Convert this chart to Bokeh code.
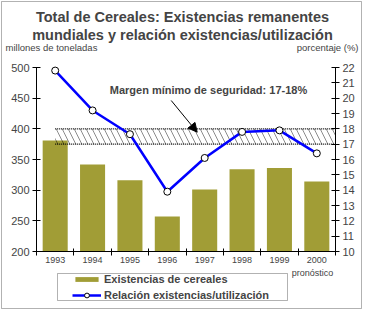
from bokeh.plotting import figure
from bokeh.models import (Range1d, LinearAxis, FixedTicker, Label, Arrow, NormalHead,
                          BoxAnnotation, Legend, LegendItem)
from bokeh.embed import file_html
from bokeh.resources import INLINE

# ---- data ----
years = [1993, 1994, 1995, 1996, 1997, 1998, 1999, 2000]
stocks = [381, 342, 316, 257, 301, 334, 336, 314]          # millones de toneladas
ratio = [21.8, 19.2, 17.65, 13.9, 16.1, 17.8, 17.9, 16.4]  # porcentaje (%)
left_ticks = [200, 250, 300, 350, 400, 450, 500]
right_ticks = list(range(10, 23))
band = [17, 18]

title1 = "Total de Cereales: Existencias remanentes"
title2 = "mundiales y relación existencias/utilización"
left_label = "millones de toneladas"
right_label = "porcentaje (%)"
note = "Margen mínimo de seguridad: 17-18%"
legend_bar = "Existencias de cereales"
legend_line = "Relación existencias/utilización"
forecast = "pronóstico"

OLIVE = "#a19d36"
BLUE = "#0000ff"
FONT = "Liberation Sans"

# ---- layout (pixel placement of the plot area inside the canvas) ----
W, H = 367, 313
FL, FR, FT, FB = 36, 335, 67, 251
X0, X1 = years[0] - 0.5, years[-1] + 0.5
Y0, Y1 = left_ticks[0], left_ticks[-1]
P0, P1 = right_ticks[0], right_ticks[-1]


def xd(px):
    return X0 + (px - FL) * (X1 - X0) / (FR - FL)


def yd(py):
    return Y1 - (py - FT) * (Y1 - Y0) / (FB - FT)


def pd_(py):
    return P1 - (py - FT) * (P1 - P0) / (FB - FT)


p = figure(width=W, height=H, x_range=Range1d(xd(0), xd(W)), y_range=Range1d(yd(H), yd(0)),
           output_backend="svg", toolbar_location=None,
           x_axis_type=None, y_axis_type=None,
           min_border=0, min_border_left=0, min_border_right=0,
           min_border_top=0, min_border_bottom=0)
p.extra_y_ranges = {"pct": Range1d(pd_(H), pd_(0))}
p.outline_line_color = None
p.background_fill_color = "white"
p.border_fill_color = "white"

# axes
xaxis = LinearAxis(fixed_location=Y0, bounds=(X0, X1),
                   ticker=FixedTicker(ticks=years,
                                      minor_ticks=[y - 0.5 for y in years] + [years[-1] + 0.5]))
xaxis.major_label_overrides = {y: str(y) for y in years}
xaxis.major_tick_line_color = None
xaxis.major_tick_out = 0
xaxis.major_tick_in = 0
xaxis.minor_tick_line_color = "black"
xaxis.minor_tick_in = 3
xaxis.minor_tick_out = 4
xaxis.major_label_standoff = 1
xaxis.major_label_text_font = FONT
xaxis.major_label_text_font_size = "9px"
xaxis.axis_line_color = "black"
p.add_layout(xaxis, "below")

yl = LinearAxis(fixed_location=X0, bounds=(Y0, Y1),
                ticker=FixedTicker(ticks=left_ticks, minor_ticks=[]))
yl.major_tick_in = 4
yl.major_tick_out = 4
yl.minor_tick_line_color = None
yl.major_label_standoff = 3
yl.major_label_text_font = FONT
yl.major_label_text_font_size = "11px"
p.add_layout(yl, "left")

yr = LinearAxis(y_range_name="pct", fixed_location=X1, bounds=(P0, P1),
                ticker=FixedTicker(ticks=right_ticks, minor_ticks=[]))
yr.major_tick_in = 4
yr.major_tick_out = 4
yr.minor_tick_line_color = None
yr.major_label_standoff = 3
yr.major_label_text_font = FONT
yr.major_label_text_font_size = "11px"
p.add_layout(yr, "right")

# bars
bars = p.vbar(x=years, top=stocks, bottom=Y0, width=0.67, fill_color=OLIVE, line_color=None)

# safety band
p.add_layout(BoxAnnotation(bottom=band[0], top=band[1], left=years[0], right=X1, y_range_name="pct",
                           fill_alpha=0, line_color=None, hatch_pattern="\\",
                           hatch_color="black", hatch_alpha=0.45, hatch_scale=12, hatch_weight=1))
p.segment(x0=[years[0]] * 2, x1=[X1] * 2, y0=band, y1=band, y_range_name="pct",
          line_color="black", line_width=1.2, line_dash="1 1")

# ratio line
line_r = p.line(years, ratio, y_range_name="pct", line_color=BLUE, line_width=2.5, level="overlay")
pts_r = p.scatter(years, ratio, y_range_name="pct", marker="circle", size=7,
                  fill_color="white", line_color="black", line_width=1, level="overlay")

# arrow + note
p.add_layout(Arrow(end=NormalHead(size=9, fill_color="black", line_color="black"),
                   x_start=xd(170.7), y_start=pd_(100), x_end=xd(196.7), y_end=pd_(131.7),
                   y_range_name="pct", line_color="black", line_width=1))
p.add_layout(Label(x=xd(208), y=yd(89.5), text=note, text_align="center", text_baseline="middle",
                   text_font=FONT, text_font_style="bold", text_font_size="11px"))

# titles
p.add_layout(Label(x=xd(182), y=yd(16), text=title1, text_align="center", text_baseline="middle",
                   text_font=FONT, text_font_style="bold", text_font_size="14.5px"))
p.add_layout(Label(x=xd(182), y=yd(34), text=title2, text_align="center", text_baseline="middle",
                   text_font=FONT, text_font_style="bold", text_font_size="14.5px"))
p.add_layout(Label(x=xd(5), y=yd(47), text=left_label, text_align="left", text_baseline="middle",
                   text_font=FONT, text_font_size="9.5px"))
p.add_layout(Label(x=xd(358), y=yd(47), text=right_label, text_align="right", text_baseline="middle",
                   text_font=FONT, text_font_size="9.5px"))
p.add_layout(Label(x=xd(312), y=yd(272.5), text=forecast, text_align="center", text_baseline="middle",
                   text_font=FONT, text_font_size="9px"))

# legend
p.add_layout(BoxAnnotation(left=xd(57), right=xd(287), top=yd(273), bottom=yd(300),
                           fill_alpha=0, line_color="black", line_width=1))
leg1 = Legend(items=[LegendItem(label=legend_bar, renderers=[bars])],
              location=(72, H - 284.5), glyph_width=29, glyph_height=6,
              label_standoff=3, padding=0, margin=0, border_line_color=None,
              background_fill_alpha=0, label_text_font=FONT, label_text_font_style="bold",
              label_text_font_size="11px")
leg2 = Legend(items=[LegendItem(label=legend_line, renderers=[line_r, pts_r])],
              location=(72, H - 301), glyph_width=29, glyph_height=12,
              label_standoff=3, padding=0, margin=0, border_line_color=None,
              background_fill_alpha=0, label_text_font=FONT, label_text_font_style="bold",
              label_text_font_size="11px")
p.add_layout(leg1)
p.add_layout(leg2)

# outer frame
p.add_layout(BoxAnnotation(left=xd(1), right=xd(361), top=yd(1), bottom=yd(308),
                           fill_alpha=0, line_color="black", line_width=1))

open("out.html", "w").write(file_html(p, INLINE))
